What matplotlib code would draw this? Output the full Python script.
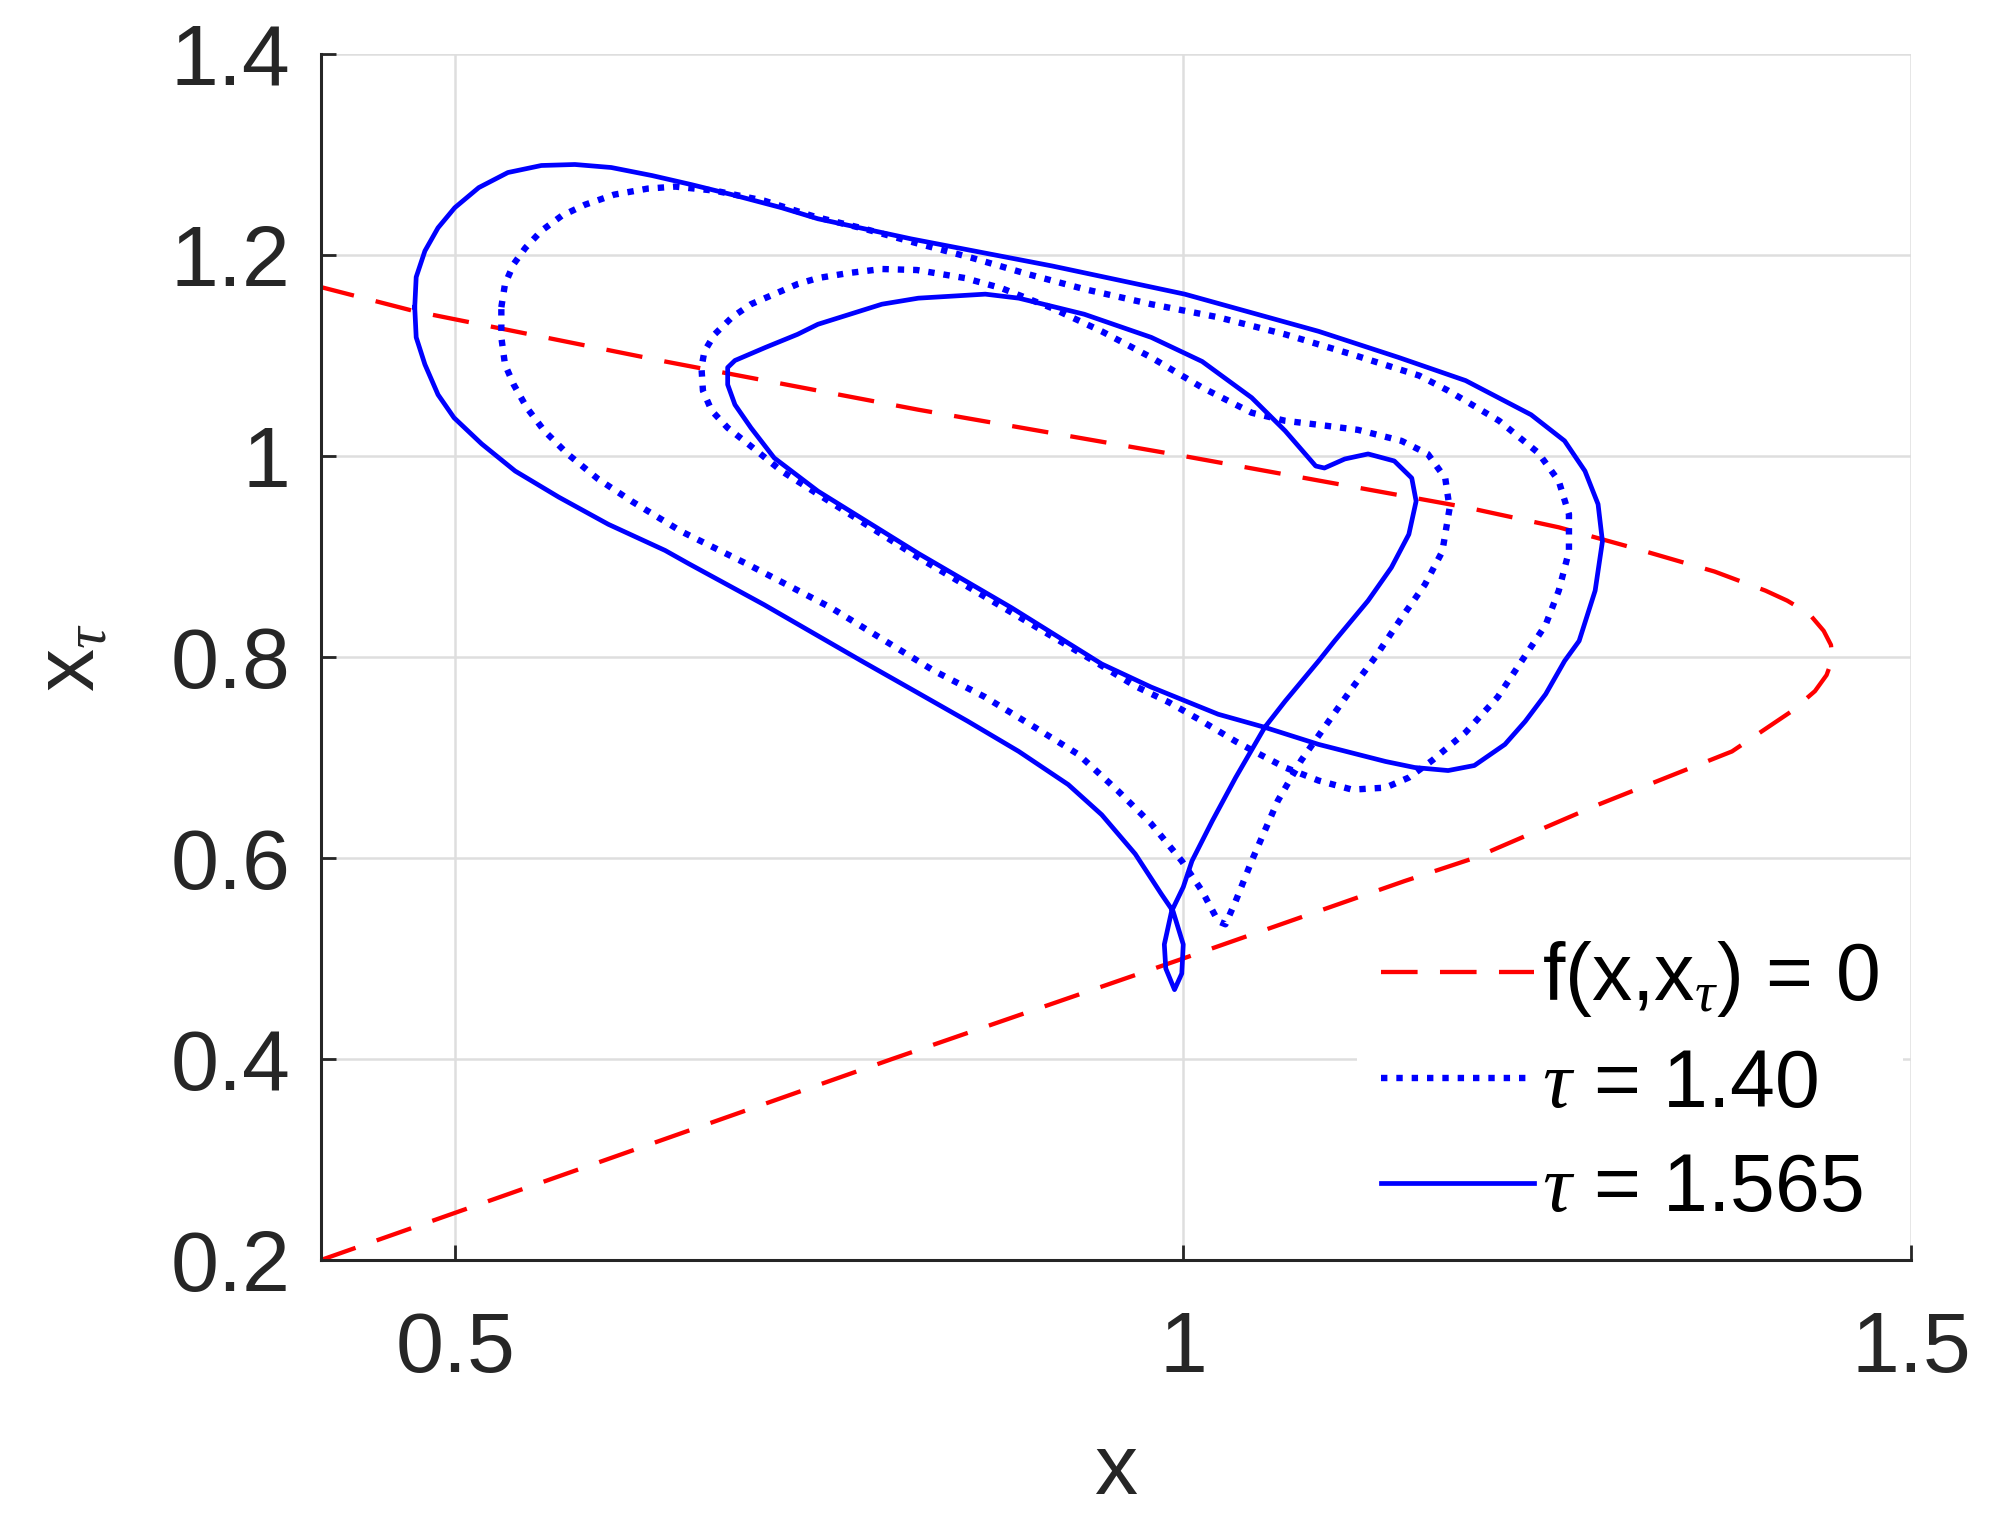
import matplotlib
matplotlib.use("Agg")
import matplotlib.pyplot as plt

# ==========================================
# data (x, x_tau)
# ==========================================
# nullcline f(x, x_tau) = 0
null_x = [0.4076, 0.6, 0.8, 1.0, 1.152, 1.2, 1.285, 1.377, 1.418, 1.434, 1.442, 1.446,
          1.445, 1.440, 1.430, 1.415, 1.400, 1.365, 1.308, 1.258, 1.194, 1.0, 0.818, 0.644,
          0.472, 0.4076]
null_y = [0.2, 0.298, 0.4, 0.5, 0.577, 0.600, 0.653, 0.706, 0.746, 0.766, 0.782, 0.798,
          0.812, 0.826, 0.843, 0.856, 0.866, 0.885, 0.909, 0.929, 0.949, 1.0, 1.046, 1.094,
          1.144, 1.168]

# orbit for tau = 1.40 (dotted)
t140_x = [0.5315, 0.534, 0.540, 0.548, 0.559, 0.573, 0.589, 0.609, 0.632, 0.651, 0.678, 0.712,
          0.747, 0.781, 0.816, 0.855, 0.893, 0.932, 0.978, 1.024, 1.070, 1.116, 1.162, 1.182,
          1.217, 1.244, 1.258, 1.265, 1.265, 1.258, 1.249, 1.233, 1.216, 1.194, 1.171, 1.155,
          1.139, 1.116, 1.093, 1.070, 1.054, 1.036, 1.013, 0.990, 0.967, 0.942, 0.880, 0.818,
          0.749, 0.724, 0.701, 0.687, 0.676, 0.670, 0.669, 0.671, 0.678, 0.690, 0.703, 0.719,
          0.735, 0.749, 0.770, 0.793, 0.817, 0.850, 0.875, 0.910, 0.944, 0.978, 1.013, 1.047,
          1.070, 1.093, 1.120, 1.150, 1.168, 1.180, 1.183, 1.178, 1.166, 1.150, 1.132, 1.116,
          1.097, 1.081, 1.065, 1.047, 1.036, 1.029, 1.024, 1.013, 0.999, 0.978, 0.955, 0.928,
          0.898, 0.864, 0.829, 0.758, 0.701, 0.655, 0.621, 0.598, 0.577, 0.561, 0.549, 0.540,
          0.534, 0.5315, 0.5315]
t140_y = [1.148, 1.171, 1.191, 1.207, 1.224, 1.239, 1.250, 1.260, 1.266, 1.268, 1.264, 1.254,
          1.238, 1.226, 1.212, 1.197, 1.181, 1.166, 1.151, 1.138, 1.121, 1.101, 1.080, 1.065,
          1.035, 1.003, 0.975, 0.942, 0.905, 0.866, 0.832, 0.797, 0.760, 0.725, 0.697, 0.680,
          0.670, 0.668, 0.677, 0.690, 0.702, 0.716, 0.736, 0.755, 0.771, 0.793, 0.846, 0.899,
          0.962, 0.985, 1.012, 1.028, 1.045, 1.065, 1.088, 1.104, 1.121, 1.138, 1.151, 1.161,
          1.171, 1.177, 1.182, 1.186, 1.185, 1.177, 1.167, 1.147, 1.124, 1.098, 1.068, 1.043,
          1.035, 1.031, 1.026, 1.015, 1.002, 0.978, 0.948, 0.905, 0.872, 0.839, 0.800, 0.769,
          0.730, 0.697, 0.657, 0.597, 0.557, 0.534, 0.537, 0.567, 0.597, 0.634, 0.667, 0.703,
          0.730, 0.760, 0.786, 0.849, 0.892, 0.925, 0.955, 0.977, 1.002, 1.025, 1.048, 1.071,
          1.091, 1.118, 1.148]

# orbit for tau = 1.565 (solid)
t1565_x = [0.472, 0.473, 0.479, 0.488, 0.4995, 0.516, 0.536, 0.559, 0.582, 0.607, 0.635, 0.662,
           0.690, 0.724, 0.749, 0.813, 0.910, 1.001, 1.093, 1.148, 1.194, 1.239, 1.262, 1.276,
           1.285, 1.288, 1.283, 1.272, 1.262, 1.249, 1.235, 1.221, 1.200, 1.182, 1.159, 1.139,
           1.093, 1.056, 1.024, 0.978, 0.944, 0.882, 0.818, 0.749, 0.719, 0.703, 0.692, 0.687,
           0.687, 0.692, 0.713, 0.735, 0.749, 0.793, 0.818, 0.864, 0.887, 0.932, 0.978, 1.013,
           1.047, 1.070, 1.091, 1.097, 1.111, 1.127, 1.145, 1.157, 1.160, 1.155, 1.143, 1.127,
           1.104, 1.093, 1.070, 1.056, 1.036, 1.020, 1.006, 1.000, 0.992, 0.987, 0.988, 0.994,
           0.999, 1.000, 0.993, 0.985, 0.967, 0.944, 0.921, 0.887, 0.852, 0.818, 0.779, 0.712,
           0.660, 0.644, 0.605, 0.571, 0.541, 0.518, 0.499, 0.488, 0.479, 0.473, 0.472]
t1565_y = [1.148, 1.178, 1.204, 1.227, 1.247, 1.267, 1.282, 1.289, 1.290, 1.287, 1.279, 1.270,
           1.260, 1.247, 1.236, 1.216, 1.189, 1.161, 1.124, 1.098, 1.075, 1.041, 1.015, 0.985,
           0.952, 0.915, 0.866, 0.816, 0.796, 0.763, 0.736, 0.713, 0.692, 0.687, 0.690, 0.696,
           0.713, 0.730, 0.743, 0.770, 0.793, 0.849, 0.903, 0.965, 0.998, 1.028, 1.051, 1.071,
           1.088, 1.095, 1.108, 1.121, 1.131, 1.151, 1.157, 1.161, 1.157, 1.141, 1.118, 1.094,
           1.058, 1.025, 0.990, 0.988, 0.997, 1.002, 0.995, 0.978, 0.955, 0.922, 0.889, 0.856,
           0.816, 0.796, 0.756, 0.730, 0.680, 0.637, 0.597, 0.571, 0.547, 0.514, 0.490, 0.469,
           0.485, 0.514, 0.547, 0.564, 0.604, 0.643, 0.673, 0.706, 0.736, 0.764, 0.796, 0.852,
           0.893, 0.906, 0.932, 0.959, 0.985, 1.012, 1.038, 1.061, 1.091, 1.118, 1.148]

x_ticks = [0.5, 1, 1.5]
x_ticklabels = ["0.5", "1", "1.5"]
y_ticks = [0.2, 0.4, 0.6, 0.8, 1.0, 1.2, 1.4]
y_ticklabels = ["0.2", "0.4", "0.6", "0.8", "1", "1.2", "1.4"]

# ==========================================
# style
# ==========================================
plt.rcParams['font.family'] = ['Liberation Sans', 'DejaVu Sans']
plt.rcParams['mathtext.fontset'] = 'custom'
plt.rcParams['mathtext.rm'] = 'Liberation Sans'
plt.rcParams['mathtext.it'] = 'Liberation Serif:italic'
plt.rcParams['mathtext.bf'] = 'Liberation Sans:bold'

axis_col = '#262626'

fig = plt.figure(figsize=(20, 15.28), dpi=100)
ax = fig.add_axes([0.1605, 0.1754, 0.795, 0.7893])

ax.plot(null_x, null_y, color='red', linewidth=3.1, linestyle=(0, (8.5, 5.2)),
        label=r"f(x,x$_{\tau}$) = 0")
ax.plot(t140_x, t140_y, color='blue', linewidth=4.6, linestyle=(0, (1, 1.4)),
        label=r"$\tau$ = 1.40")
ax.plot(t1565_x, t1565_y, color='blue', linewidth=3.4, linestyle='-',
        label=r"$\tau$ = 1.565")

ax.set_xlim(0.4076, 1.5)
ax.set_ylim(0.2, 1.4)
ax.set_xticks(x_ticks)
ax.set_xticklabels(x_ticklabels)
ax.set_yticks(y_ticks)
ax.set_yticklabels(y_ticklabels)

ax.grid(True, color='#dedede', linewidth=1.8)
ax.set_axisbelow(True)
for s in ['top', 'right']:
    ax.spines[s].set_visible(False)
for s in ['left', 'bottom']:
    ax.spines[s].set_color(axis_col)
    ax.spines[s].set_linewidth(2.2)

ax.tick_params(axis='both', direction='in', length=11, width=2, color=axis_col,
               labelcolor=axis_col, labelsize=62)
ax.tick_params(axis='y', pad=22)
ax.tick_params(axis='x', pad=36)

ax.set_xlabel("x", fontsize=62, color=axis_col)
ax.xaxis.set_label_coords(0.5, -0.143)
ax.set_ylabel(r"x$_{\tau}$", fontsize=62, color=axis_col)
ax.yaxis.set_label_coords(-0.131, 0.5)

leg = ax.legend(loc='lower right', bbox_to_anchor=(1.0, 0.0), fontsize=58,
                handlelength=1.9, handletextpad=0.1, labelspacing=0.35,
                borderpad=0.3, borderaxespad=0.1, fancybox=False, framealpha=1)
leg.get_frame().set_edgecolor('white')
leg.get_frame().set_linewidth(0)

fig.savefig("out.png", dpi=100)
